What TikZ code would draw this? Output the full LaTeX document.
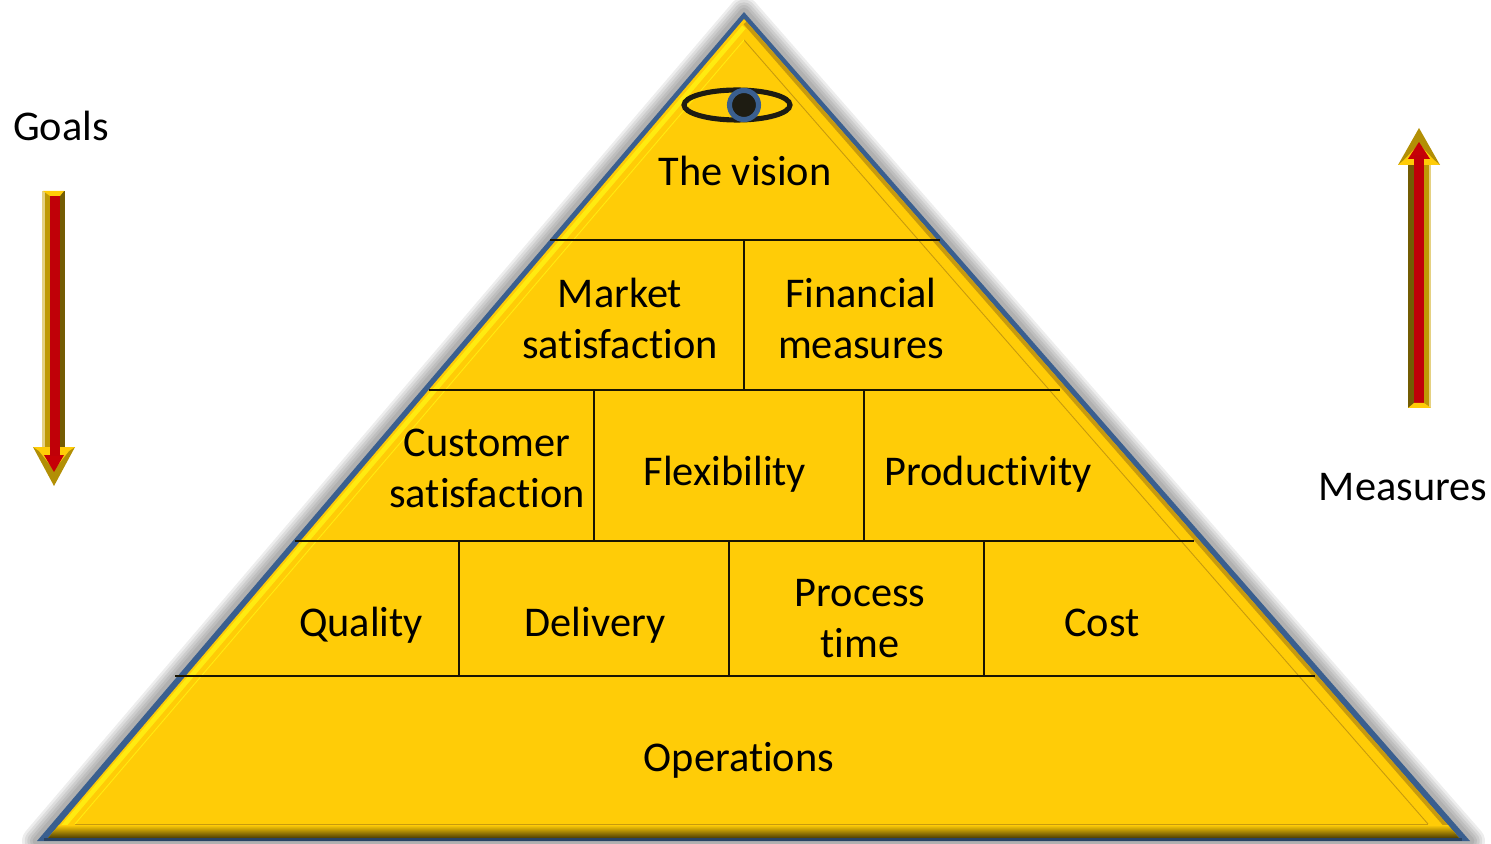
\documentclass[tikz,border=0pt]{standalone}
\usepackage{fontspec}
\setmainfont[RawFeature={-liga}]{Carlito}
\definecolor{pyrgold}{HTML}{FFCC07}
\definecolor{pyrblue}{HTML}{3A5F8F}
\definecolor{pyrbright}{HTML}{FFEB10}
\definecolor{pyrdark}{HTML}{C79A0E}
\definecolor{pyrink}{HTML}{1E1C12}
\definecolor{arrowred}{HTML}{C00008}
\begin{document}
\begin{tikzpicture}[
        x=0.02cm,y=-0.02cm,
        caption/.style={font=\fontsize{24.1}{29}\selectfont,align=center,inner sep=0pt,text=black},
        rowline/.style={draw=black!90!pyrgold,line width=1.5pt},
        halo/.style={draw=black,line join=round,opacity=0.07},
    ]
    \useasboundingbox (0,0) rectangle (1491,844);
    \clip (0,0) rectangle (1491,844);
    % corners of the pyramid
    \coordinate (apex) at (744,12);
    \coordinate (baseL) at (37,841);
    \coordinate (baseR) at (1470,841);
    % soft shadow
    \foreach \w in {17,14,11,8,5}
        \draw[halo,line width=\w pt] (apex) -- (baseL) -- (baseR) -- cycle;
    % body
    \fill[pyrblue] (apex) -- (baseL) -- (baseR) -- cycle;
    \fill[pyrgold] (744,19) -- (48,838) -- (1459,838) -- cycle;
    % bevel
    \draw[pyrbright,line width=2.6pt] (744,27) -- (55,836);
    \draw[pyrdark,line width=2.2pt] (745,23) -- (1454,835);
    \shade[top color=pyrgold,bottom color=black!70!pyrgold] (59,825) -- (1448,825) -- (1459,838) -- (48,838) -- cycle;
    \draw[pyrblue!70!black,line width=1.4pt] (44,839.5) -- (1462,839.5);
    \draw[pyrdark,line width=0.5pt] (1428,824) -- (75,824);
    \draw[pyrdark,line width=0.5pt] (744,40) -- (1428,824);
    \draw[pyrbright,line width=0.5pt] (744,40) -- (75,824);
    % rows
    \draw[rowline] (550,240) -- (940,240);
    \draw[rowline] (429,390) -- (1060,390);
    \draw[rowline] (295,541) -- (1194,541);
    \draw[rowline] (175,676) -- (1315,676);
    \draw[rowline] (744,240) -- (744,390);
    \draw[rowline] (594,390) -- (594,541);
    \draw[rowline] (864,390) -- (864,541);
    \draw[rowline] (459,541) -- (459,676);
    \draw[rowline] (729,541) -- (729,676);
    \draw[rowline] (984,541) -- (984,676);
    % eye
    \draw[pyrink,line width=2.9pt] (737,105) ellipse [x radius=53,y radius=15];
    \draw[pyrblue,fill=pyrink,line width=2.9pt] (744,105) circle [radius=14.5];
    % goals arrow
    \fill[pyrgold!75!black] (42,191) rectangle (65,450);
    \fill[black!20!pyrgold!50!white] (42,191) rectangle (44.5,450);
    \fill[pyrgold!45!black] (60,191) rectangle (65,450);
    \fill[arrowred] (50,196) rectangle (60,450);
    \fill[pyrgold] (43,191) -- (64,191) -- (60,196) -- (50,196) -- cycle;
    \fill[pyrgold!70!black] (33,447) -- (75,447) -- (54,486) -- cycle;
    \fill[pyrgold] (33,447) -- (75,447) -- (69,451) -- (54,470) -- (39,451) -- cycle;
    \fill[arrowred!90!red] (44,455) -- (64,455) -- (54,472) -- cycle;
    \fill[arrowred] (50,440) rectangle (60,456);
    % measures arrow
    \fill[pyrgold!75!black] (1408,160) rectangle (1431,408);
    \fill[black!20!pyrgold!50!white] (1428.5,160) rectangle (1431,408);
    \fill[pyrgold!45!black] (1408,160) rectangle (1413.5,408);
    \fill[arrowred] (1414,160) rectangle (1424,403);
    \fill[pyrgold] (1408,408) -- (1431,408) -- (1424,403) -- (1414,403) -- cycle;
    \fill[pyrgold!70!black] (1398,165) -- (1440,165) -- (1419,128) -- cycle;
    \fill[pyrgold] (1398,165) -- (1440,165) -- (1434,160) -- (1419,144) -- (1404,160) -- cycle;
    \fill[arrowred!90!red] (1408,159) -- (1430,159) -- (1419,142) -- cycle;
    \fill[arrowred] (1414,155) rectangle (1424,170);
    % texts
    \node[caption] (vision) at (745,171) {The vision};
    \node[caption] (market) at (620,318) {Market\\satisfaction};
    \node[caption] (financial) at (861,318) {Financial\\measures};
    \node[caption] (customer) at (487,468) {Customer\\satisfaction};
    \node[caption] (flexibility) at (725,474) {Flexibility};
    \node[caption] (productivity) at (988,474) {Productivity};
    \node[caption] (quality) at (361,625) {Quality};
    \node[caption] (delivery) at (595,625) {Delivery};
    \node[caption] (process) at (860,619) {Process\\time};
    \node[caption] (cost) at (1102,623) {Cost};
    \node[caption] (operations) at (739,760) {Operations};
    \node[caption] (goals) at (61,126) {Goals};
    \node[caption] (measures) at (1403,487) {Measures};
\end{tikzpicture}
\end{document}
